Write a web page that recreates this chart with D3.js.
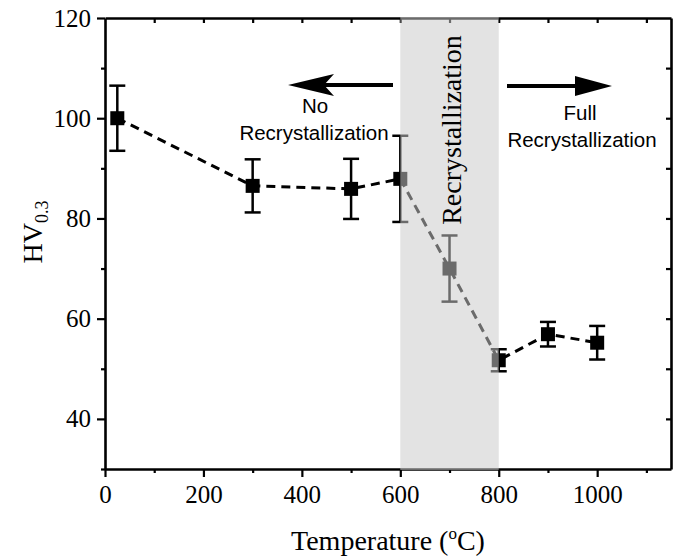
<!DOCTYPE html>
<html>
<head>
<meta charset="utf-8">
<script src="https://cdn.jsdelivr.net/npm/d3@7"></script>
<style>
  body { margin: 0; background: #fff; }
  svg { display: block; }
</style>
</head>
<body>
<script>
// data
var temps = [25, 300, 500, 600, 700, 800, 900, 1000];
var hv = [100.0, 86.5, 85.9, 87.9, 70.0, 51.7, 56.9, 55.2];
var hvErr = [6.5, 5.3, 6.0, 8.6, 6.6, 2.2, 2.45, 3.35];
var xTicks = [0, 200, 400, 600, 800, 1000];
var yTicks = [40, 60, 80, 100, 120];
var band = [600, 800];

var width = 681, height = 559;
// plot box (note: "top" is taken by window.top)
var plotL = 105, plotR = 671, plotT = 18, plotB = 469;

var svg = d3.select("body").append("svg")
    .attr("width", width)
    .attr("height", height);

var x = d3.scaleLinear().domain([0, 1150]).range([plotL, plotR]);
var y = d3.scaleLinear().domain([30, 120]).range([plotB, plotT]);

var serif = "'Liberation Serif', 'Times New Roman', serif";
var sans = "'Liberation Sans', Arial, sans-serif";

//minor ticks
var xMinor = d3.range(100, 1150, 200);
var yMinor = d3.range(30, 120, 20);

function styleAxis(g) {
    g.selectAll(".domain").attr("stroke", "#000").attr("stroke-width", 2.6);
    g.selectAll(".tick line").attr("stroke", "#000").attr("stroke-width", 2.2);
}

// left axis
var gl = svg.append("g").attr("transform", "translate(" + plotL + ",0)")
    .call(d3.axisLeft(y).tickValues(yTicks).tickSize(8).tickSizeOuter(0).tickPadding(6).tickFormat(d3.format("d")));
gl.selectAll("text").attr("font-family", serif).attr("font-size", 25).attr("fill", "#000");
styleAxis(gl);
svg.append("g").attr("transform", "translate(" + plotL + ",0)")
    .call(d3.axisLeft(y).tickValues(yMinor).tickSize(4).tickFormat(""))
    .call(function (g) { g.select(".domain").remove(); styleAxis(g); });

// bottom axis
var gb = svg.append("g").attr("transform", "translate(0," + plotB + ")")
    .call(d3.axisBottom(x).tickValues(xTicks).tickSize(8).tickSizeOuter(0).tickPadding(8).tickFormat(d3.format("d")));
gb.selectAll("text").attr("font-family", serif).attr("font-size", 25).attr("fill", "#000");
styleAxis(gb);
svg.append("g").attr("transform", "translate(0," + plotB + ")")
    .call(d3.axisBottom(x).tickValues(xMinor).tickSize(4).tickFormat(""))
    .call(function (g) { g.select(".domain").remove(); styleAxis(g); });

// top and right axes, ticks pointing in
var gt = svg.append("g").attr("transform", "translate(0," + plotT + ")")
    .call(d3.axisTop(x).tickValues(d3.range(100, 1150, 100)).tickSize(-5).tickSizeOuter(0).tickFormat(""));
styleAxis(gt);
var gr = svg.append("g").attr("transform", "translate(" + plotR + ",0)")
    .call(d3.axisRight(y).tickValues(d3.range(40, 120, 10)).tickSize(-5).tickSizeOuter(0).tickFormat(""));
styleAxis(gr);

// axis titles
svg.append("text")
    .attr("x", (plotL + plotR) / 2)
    .attr("y", 550)
    .attr("text-anchor", "middle")
    .attr("font-family", serif)
    .attr("font-size", 28)
    .call(function (t) {
        t.append("tspan").text("Temperature (");
        t.append("tspan").attr("font-size", 17).attr("dy", -11).text("o");
        t.append("tspan").attr("dy", 11).text("C)");
    });

svg.append("text")
    .attr("transform", "translate(42,232) rotate(-90)")
    .attr("text-anchor", "middle")
    .attr("font-family", serif)
    .attr("font-size", 28)
    .call(function (t) {
        t.append("tspan").text("HV");
        t.append("tspan").attr("font-size", 18).attr("dy", 6).text("0.3");
    });

// data
var pts = temps.map(function (t, i) { return { t: t, v: hv[i], e: hvErr[i] }; });

var line = d3.line().x(function (d) { return x(d.t); }).y(function (d) { return y(d.v); });

svg.append("path")
    .datum(pts)
    .attr("d", line)
    .attr("fill", "none")
    .attr("stroke", "#000")
    .attr("stroke-width", 3)
    .attr("stroke-dasharray", "9,6");

var eb = svg.selectAll(".err").data(pts).enter().append("g").attr("class", "err");
eb.append("line")
    .attr("x1", function (d) { return x(d.t); })
    .attr("x2", function (d) { return x(d.t); })
    .attr("y1", function (d) { return y(d.v - d.e); })
    .attr("y2", function (d) { return y(d.v + d.e); })
    .attr("stroke", "#000").attr("stroke-width", 2.5);
eb.selectAll(".cap")
    .data(function (d) { return [{ t: d.t, v: d.v - d.e }, { t: d.t, v: d.v + d.e }]; })
    .enter().append("line")
    .attr("x1", function (d) { return x(d.t) - 8; })
    .attr("x2", function (d) { return x(d.t) + 8; })
    .attr("y1", function (d) { return y(d.v); })
    .attr("y2", function (d) { return y(d.v); })
    .attr("stroke", "#000").attr("stroke-width", 2.5);

svg.selectAll(".pt").data(pts).enter().append("rect")
    .attr("class", "pt")
    .attr("x", function (d) { return x(d.t) - 7; })
    .attr("y", function (d) { return y(d.v) - 7; })
    .attr("width", 14)
    .attr("height", 14)
    .attr("fill", "#000");

// recrystallization band sits over the marks
svg.append("rect")
    .attr("x", x(band[0]))
    .attr("y", plotT - 1)
    .attr("width", x(band[1]) - x(band[0]))
    .attr("height", plotB - plotT + 2)
    .attr("fill", "rgb(202,202,202)")
    .attr("fill-opacity", 0.53);

// arrows
var ay = 85;
svg.append("line").attr("x1", 393).attr("x2", 318).attr("y1", ay).attr("y2", ay)
    .attr("stroke", "#000").attr("stroke-width", 4);
svg.append("path")
    .attr("d", "M288," + ay + " L334," + (ay - 11) + " L324," + ay + " L334," + (ay + 11) + " Z")
    .attr("fill", "#000");
svg.append("line").attr("x1", 507).attr("x2", 585).attr("y1", ay + 1).attr("y2", ay + 1)
    .attr("stroke", "#000").attr("stroke-width", 4);
svg.append("path")
    .attr("d", "M612," + (ay + 1) + " L575," + (ay - 9) + " L575," + (ay + 11) + " Z")
    .attr("fill", "#000");

// annotation text
function label(tx, ty, s) {
    svg.append("text").attr("x", tx).attr("y", ty)
        .attr("text-anchor", "middle")
        .attr("font-family", sans)
        .attr("font-size", 20.5)
        .text(s);
}
label(315, 113, "No");
label(314, 140, "Recrystallization");
label(580, 120, "Full");
label(582, 147, "Recrystallization");

svg.append("text")
    .attr("transform", "translate(461,130) rotate(-90)")
    .attr("text-anchor", "middle")
    .attr("font-family", serif)
    .attr("font-size", 28)
    .text("Recrystallization");
</script>
</body>
</html>
